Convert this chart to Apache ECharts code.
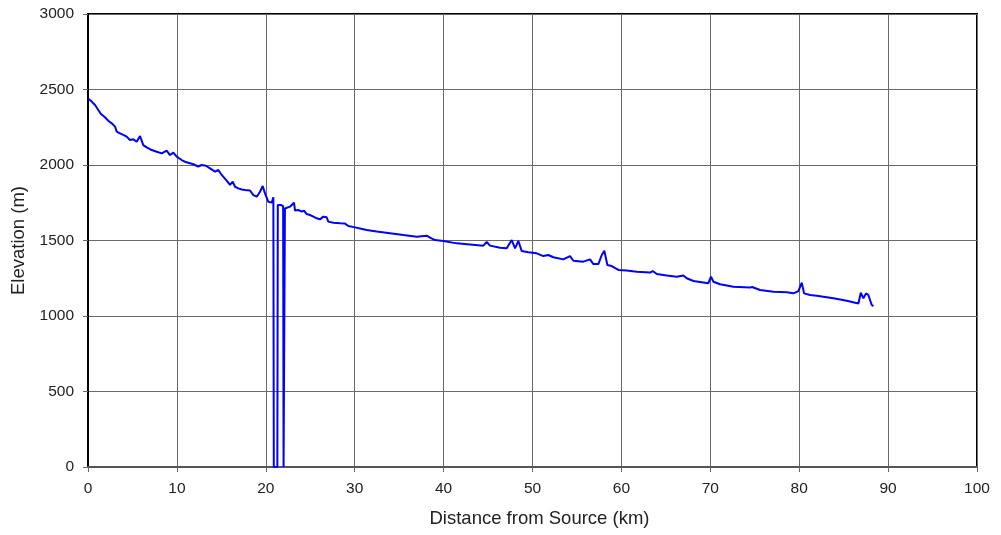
<!DOCTYPE html>
<html>
<head>
<meta charset="utf-8">
<script src="https://cdn.jsdelivr.net/npm/echarts@6/dist/echarts.min.js"></script>
<style>
html,body{margin:0;padding:0;background:#fff;}
#chart{width:1001px;height:535px;}
</style>
</head>
<body>
<div id="chart"></div>
<script>
const distanceKm = [
  0, 0.42, 0.79, 1.16, 1.46, 1.91, 2.28, 2.67, 3.04, 3.23, 3.6, 3.97, 4.35, 4.72, 5.1, 5.48, 5.85, 6.22, 6.6, 7.17,
  7.73, 8.29, 8.85, 9.22, 9.6, 9.98, 10.54, 10.9, 11.85, 12.4, 12.79, 13.27, 13.72, 14.29, 14.66, 15.04, 15.6, 15.78, 15.97, 16.28,
  16.54, 16.91, 17.29, 17.66, 18.22, 18.6, 18.98, 19.35, 19.65, 19.91, 20.28, 20.67, 20.85, 20.9, 21.3, 21.35, 21.7, 21.95, 22.0, 22.1,
  22.15, 22.72, 23.17, 23.29, 23.66, 24.04, 24.3, 24.6, 24.97, 25.35, 25.73, 25.91, 26.1, 26.47, 26.85, 27.03, 27.6, 28.35, 28.91, 29.28,
  30.04, 30.6, 31.35, 32.48, 33.97, 35.47, 36.98, 38.1, 38.47, 39.04, 39.97, 41.48, 42.97, 44.47, 44.85, 45.22, 46.35, 47.1, 47.66, 48.04,
  48.41, 48.79, 49.53, 50.47, 51.22, 51.78, 52.34, 53.47, 54.22, 54.6, 55.72, 56.47, 56.85, 57.41, 57.79, 58.08, 58.42, 58.91, 59.66, 60.6,
  61.73, 63.22, 63.53, 63.98, 65.1, 66.23, 66.97, 67.35, 68.1, 69.78, 70.08, 70.35, 71.1, 72.6, 74.47, 74.7, 75.6, 77.1, 78.6, 79.35,
  79.91, 80.29, 80.55, 81.22, 81.98, 82.72, 83.85, 85.35, 86.66, 86.93, 87.22, 87.52, 87.78, 87.9, 88.16, 88.35
];
const elevationM = [
  2440, 2420, 2397, 2364, 2338, 2316, 2293, 2276, 2254, 2221, 2210, 2199, 2188, 2166, 2170, 2154, 2192, 2132, 2117, 2099,
  2088, 2077, 2095, 2066, 2082, 2055, 2033, 2022, 2005, 1990, 2000, 1995, 1978, 1956, 1967, 1934, 1896, 1908, 1868, 1890,
  1856, 1845, 1838, 1834, 1831, 1801, 1790, 1823, 1861, 1812, 1757, 1751, 1786, 0, 0, 1735, 1735, 1728, 0, 0,
  1712, 1724, 1750, 1698, 1702, 1691, 1698, 1675, 1669, 1658, 1647, 1658, 1640, 1658, 1654, 1625, 1618, 1614, 1612, 1596,
  1587, 1580, 1570, 1559, 1548, 1536, 1525, 1532, 1519, 1503, 1497, 1481, 1474, 1466, 1490, 1466, 1452, 1448, 1503, 1448,
  1497, 1430, 1422, 1415, 1397, 1404, 1389, 1375, 1397, 1366, 1360, 1375, 1344, 1344, 1404, 1432, 1338, 1331, 1305, 1301,
  1293, 1288, 1298, 1278, 1268, 1260, 1268, 1250, 1232, 1217, 1260, 1227, 1210, 1194, 1188, 1192, 1172, 1161, 1157, 1150,
  1165, 1221, 1150, 1139, 1134, 1128, 1117, 1101, 1083, 1154, 1117, 1150, 1139, 1130, 1073, 1066
];
const xTicks = { min: 0, max: 100, interval: 10 };
const yTicks = { min: 0, max: 3000, interval: 500 };
const xTitle = 'Distance from Source (km)';
const yTitle = 'Elevation (m)';

const points = distanceKm.map((d, i) => [d, elevationM[i]]);
const font = 'Liberation Sans, Arial, sans-serif';

const chart = echarts.init(document.getElementById('chart'), null, { renderer: 'canvas' });
chart.setOption({
  animation: false,
  backgroundColor: '#fff',
  grid: { left: 88, right: 24, top: 14, bottom: 68, show: true, borderColor: '#000', borderWidth: 2, backgroundColor: 'transparent' },
  xAxis: {
    type: 'value', min: xTicks.min, max: xTicks.max, interval: xTicks.interval,
    name: xTitle, nameLocation: 'middle', nameGap: 42,
    nameTextStyle: { fontFamily: font, fontSize: 18.5, color: '#222', padding: [0, 0, 0, 14] },
    axisLine: { show: true, onZero: false, lineStyle: { color: '#555', width: 2 } },
    axisTick: { show: true, length: 5, lineStyle: { color: '#666', width: 1 } },
    axisLabel: { fontFamily: font, fontSize: 15.5, color: '#222', margin: 14, formatter: v => String(v) },
    splitLine: { show: true, lineStyle: { color: '#6a6a6a', width: 1 } }
  },
  yAxis: {
    type: 'value', min: yTicks.min, max: yTicks.max, interval: yTicks.interval,
    name: yTitle, nameLocation: 'middle', nameGap: 58, nameRotate: 90,
    nameTextStyle: { fontFamily: font, fontSize: 18.5, color: '#222' },
    axisLine: { show: true, lineStyle: { color: '#000', width: 2 } },
    axisTick: { show: true, length: 5, lineStyle: { color: '#666', width: 1 } },
    axisLabel: { fontFamily: font, fontSize: 15.5, color: '#222', margin: 14, formatter: v => String(v) },
    splitLine: { show: true, lineStyle: { color: '#6a6a6a', width: 1 } }
  },
  series: [{
    type: 'line', data: points, showSymbol: false, symbol: 'none',
    lineStyle: { color: '#0000ff', width: 2 }, z: 3
  }]
});
</script>
</body>
</html>
